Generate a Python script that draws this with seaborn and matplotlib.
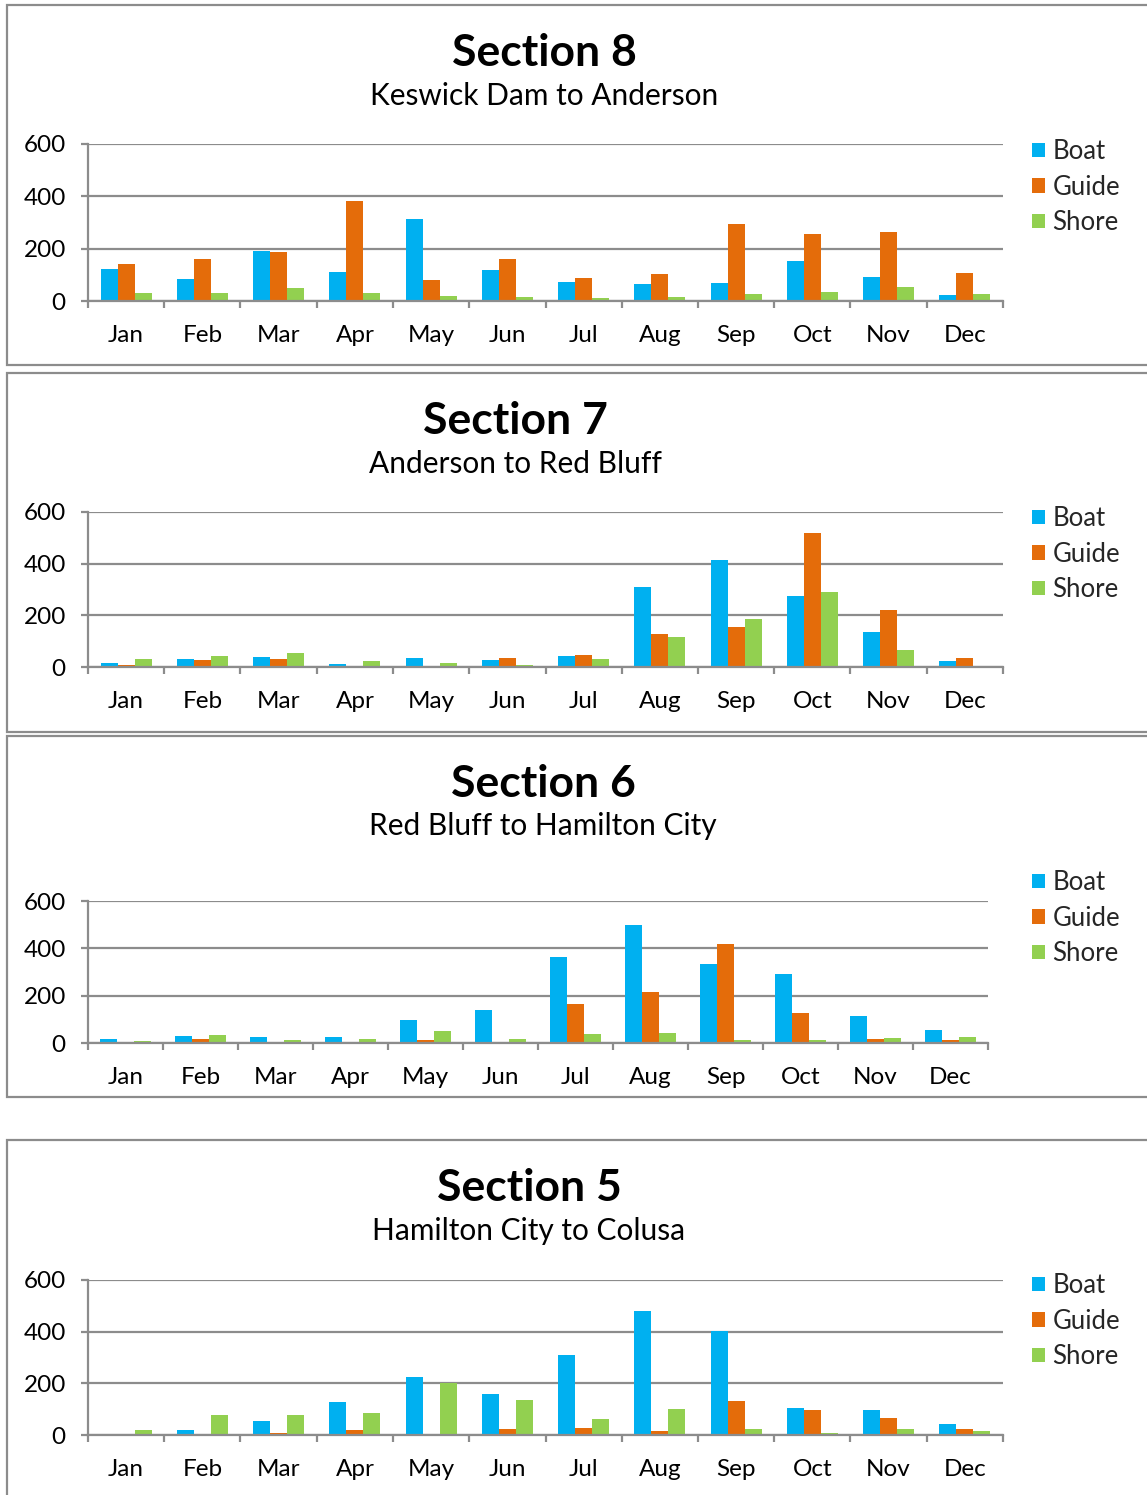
import matplotlib
matplotlib.use("Agg")
import matplotlib.pyplot as plt
from matplotlib.patches import Rectangle
from matplotlib.ticker import FixedLocator
import pandas as pd
import seaborn as sns

sns.set_style("white")
plt.rcParams["font.family"] = ["Lato", "DejaVu Sans"]

# ---- data -------------------------------------------------------------
months = ["Jan", "Feb", "Mar", "Apr", "May", "Jun",
          "Jul", "Aug", "Sep", "Oct", "Nov", "Dec"]
types = ["Boat", "Guide", "Shore"]
y_ticks = [0, 200, 400, 600]

section_titles = ["Section 8", "Section 7", "Section 6", "Section 5"]
section_reaches = ["Keswick Dam to Anderson", "Anderson to Red Bluff",
                   "Red Bluff to Hamilton City", "Hamilton City to Colusa"]

s8_boat = [122, 85, 192, 112, 312, 120, 74, 66, 70, 152, 93, 24]
s8_guide = [141, 162, 189, 382, 80, 162, 89, 104, 294, 256, 265, 108]
s8_shore = [32, 31, 50, 32, 20, 14, 10, 17, 25, 36, 54, 25]

s7_boat = [16, 30, 40, 10, 36, 26, 44, 310, 416, 275, 137, 23]
s7_guide = [8, 27, 31, 0, 2, 34, 47, 127, 155, 520, 221, 35]
s7_shore = [31, 41, 54, 23, 14, 8, 32, 116, 185, 292, 66, 3]

s6_boat = [18, 31, 27, 27, 98, 139, 362, 498, 334, 292, 116, 55]
s6_guide = [0, 16, 0, 0, 11, 1, 166, 217, 419, 127, 18, 14]
s6_shore = [7, 33, 13, 18, 52, 17, 38, 42, 13, 13, 20, 24]

s5_boat = [0, 18, 55, 128, 226, 159, 311, 481, 404, 103, 95, 43]
s5_guide = [0, 0, 6, 18, 0, 22, 26, 14, 130, 95, 66, 22]
s5_shore = [21, 76, 77, 86, 203, 134, 62, 99, 25, 8, 22, 17]

section_series = [
    (s8_boat, s8_guide, s8_shore),
    (s7_boat, s7_guide, s7_shore),
    (s6_boat, s6_guide, s6_shore),
    (s5_boat, s5_guide, s5_shore),
]

# ---- styling / layout (pixel units on a 1147 x 1495 canvas) -----------
W, H = 1147, 1495
palette = {"Boat": "#00B0F0", "Guide": "#E46C0A", "Shore": "#92D050"}
GRAY = "#8C8C8C"

# frame: (left, top, bottom)
frames = [(7, 5, 365), (7, 373, 732), (7, 736, 1097), (7, 1140, 1520)]
# title centre x, title y, subtitle y
titles_pos = [(544, 53, 96), (515, 421, 464), (543, 784, 826), (529, 1188, 1231)]
# axes: left, right, top, bottom
axes_box = [(88, 1003, 144, 301), (88, 1003, 512, 667),
            (88, 988, 901, 1043), (88, 1003, 1280, 1435)]
# legend top-left
legend_pos = [(1032, 139), (1032, 506), (1032, 870), (1032, 1273)]


def fx(px):
    return px / W


def fy(py):
    return 1 - py / H


fig = plt.figure(figsize=(W / 100, H / 100), dpi=100)

for i in range(4):
    left, top, bottom = frames[i]
    fig.patches.append(Rectangle((fx(left), fy(bottom)), fx(1200 - left),
                                 (bottom - top) / H, transform=fig.transFigure,
                                 facecolor="white", edgecolor=GRAY,
                                 linewidth=1.6, zorder=-5))

    cx, ty, sy = titles_pos[i]
    fig.text(fx(cx), fy(ty), section_titles[i], ha="center", va="center",
             fontsize=32, fontweight="bold", color="black", zorder=3)
    fig.text(fx(cx), fy(sy), section_reaches[i], ha="center", va="center",
             fontsize=21.5, color="black", zorder=3)

    boat, guide, shore = section_series[i]
    df = pd.DataFrame({
        "Month": months * 3,
        "Type": ["Boat"] * 12 + ["Guide"] * 12 + ["Shore"] * 12,
        "Count": boat + guide + shore,
    })

    al, ar, at, ab = axes_box[i]
    ax = fig.add_axes([fx(al), fy(ab), (ar - al) / W, (ab - at) / H])
    ax.set_zorder(2)
    ax.set_facecolor("none")
    sns.barplot(data=df, x="Month", y="Count", hue="Type", order=months,
                hue_order=types, palette=palette, saturation=1, width=0.67,
                linewidth=0, ax=ax)

    ax.set_xlim(-0.5, 11.5)
    ax.set_ylim(0, 600)
    ax.set_yticks(y_ticks)
    ax.set_xlabel("")
    ax.set_ylabel("")
    ax.yaxis.grid(True, color=GRAY, linewidth=1.6)
    ax.xaxis.grid(False)
    ax.set_axisbelow(True)
    for side in ("top", "right"):
        ax.spines[side].set_visible(False)
    for side in ("left", "bottom"):
        ax.spines[side].set_visible(True)
        ax.spines[side].set_color(GRAY)
        ax.spines[side].set_linewidth(1.6)

    ax.xaxis.set_minor_locator(FixedLocator([k - 0.5 for k in range(13)]))
    ax.tick_params(axis="x", which="major", length=0, pad=17, labelsize=17.5,
                   labelcolor="black")
    ax.tick_params(axis="x", which="minor", length=5, width=1.6, color=GRAY,
                   direction="out", bottom=True)
    ax.tick_params(axis="y", which="major", length=5, width=1.6, color=GRAY,
                   direction="out", left=True, pad=11, labelsize=17.5,
                   labelcolor="black")

    handles, labels = ax.get_legend_handles_labels()
    if ax.get_legend() is not None:
        ax.get_legend().remove()
    lx, ly = legend_pos[i]
    fig.legend(handles, labels, loc="upper left",
               bbox_to_anchor=(fx(lx), fy(ly)), bbox_transform=fig.transFigure,
               frameon=False, fontsize=18.5, handlelength=0.5,
               handleheight=0.5, handletextpad=0.3, labelspacing=0.41,
               borderpad=0, borderaxespad=0)

fig.savefig("out.png", dpi=100, facecolor="white")
